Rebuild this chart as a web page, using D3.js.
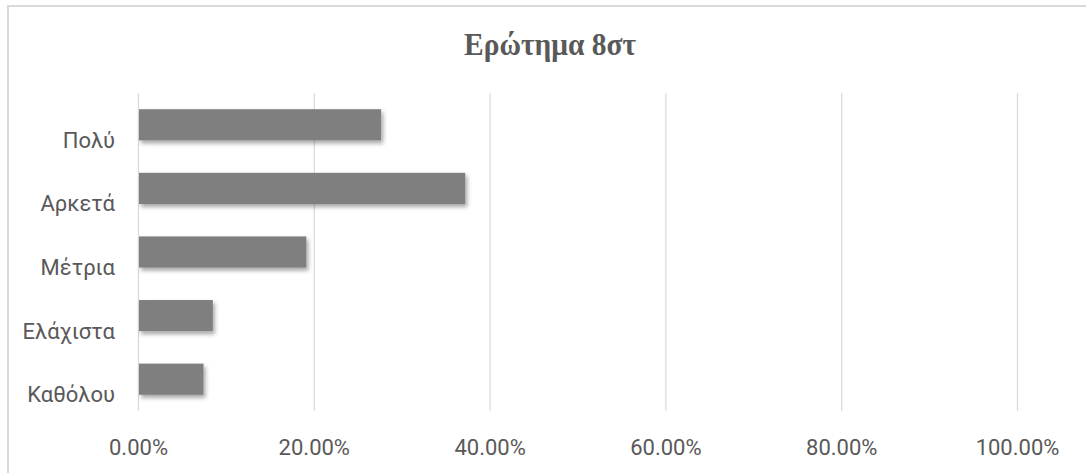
<!DOCTYPE html>
<html>
<head>
<meta charset="utf-8">
<script src="https://cdn.jsdelivr.net/npm/d3@7"></script>
<style>
  body { margin: 0; background: #fff; }
  .tick text { fill: #595959; }
</style>
</head>
<body>
<div id="chart"></div>
<script>
// data (answers out of 94)
let categories = ["Πολύ", "Αρκετά", "Μέτρια", "Ελάχιστα", "Καθόλου"];
let values = [0.2766, 0.3723, 0.1915, 0.0851, 0.0745];
let xTicks = [0, 0.2, 0.4, 0.6, 0.8, 1.0];
let title = "Ερώτημα 8στ";

let width = 1086;
let height = 473;
let margin = {top: 93, right: 69, bottom: 62, left: 138};

let svg = d3.select("#chart").append("svg")
    .attr("width", width)
    .attr("height", height);

// shadow under the bars, like Excel's outer shadow
let defs = svg.append("defs");
defs.append("filter")
    .attr("id", "shadow")
    .attr("x", "-10%").attr("y", "-30%")
    .attr("width", "130%").attr("height", "180%")
    .append("feDropShadow")
    .attr("dx", 2).attr("dy", 3)
    .attr("stdDeviation", 2)
    .attr("flood-color", "#000")
    .attr("flood-opacity", 0.35);

// chart area border
svg.append("rect")
    .attr("x", 8).attr("y", 6)
    .attr("width", width + 20).attr("height", height + 20)
    .style("fill", "none")
    .style("stroke", "#d9d9d9")
    .style("stroke-width", 2);

// title is a bit condensed in the original
svg.append("text")
    .attr("transform", "translate(550,55) scale(0.92,1)")
    .attr("text-anchor", "middle")
    .style("font-family", "'Liberation Serif', serif")
    .style("font-weight", "bold")
    .style("font-size", "32px")
    .style("fill", "#595959")
    .text(title);

let x = d3.scaleLinear()
    .domain([0, 1])
    .range([margin.left, width - margin.right]);

let y = d3.scaleBand()
    .domain(categories)
    .range([margin.top, height - margin.bottom])
    .paddingInner(0.51)
    .paddingOuter(0.255);

// vertical gridlines
svg.append("g")
    .attr("transform", "translate(0," + (height - margin.bottom) + ")")
    .call(d3.axisBottom(x).tickValues(xTicks)
        .tickSize(-(height - margin.top - margin.bottom))
        .tickFormat(""))
    .call(g => g.select(".domain").remove())
    .call(g => g.selectAll("line").style("stroke", "#d9d9d9").style("stroke-width", 1.2));

// x labels
svg.append("g")
    .attr("transform", "translate(0," + (height - margin.bottom) + ")")
    .call(d3.axisBottom(x).tickValues(xTicks).tickSize(0).tickFormat(d3.format(".2%")))
    .call(g => g.select(".domain").remove())
    .call(g => g.selectAll("text")
        .attr("dy", 0)
        .attr("y", 44)
        .style("font-family", "Roboto, sans-serif")
        .style("font-size", "22px"));

// category labels
svg.append("g")
    .attr("transform", "translate(" + (margin.left - 23) + ",0)")
    .call(d3.axisLeft(y).tickSize(0))
    .call(g => g.select(".domain").remove())
    .call(g => g.selectAll("text")
        .attr("x", 0)
        .attr("dy", 23)
        .style("font-family", "Roboto, sans-serif")
        .style("font-size", "22px"));

svg.append("g").selectAll("rect")
    .data(values)
    .join("rect")
    .attr("x", x(0) + 1)
    .attr("y", (d, i) => y(categories[i]))
    .attr("width", d => x(d) - x(0) - 1)
    .attr("height", y.bandwidth())
    .attr("filter", "url(#shadow)")
    .style("fill", "#7f7f7f");
</script>
</body>
</html>
